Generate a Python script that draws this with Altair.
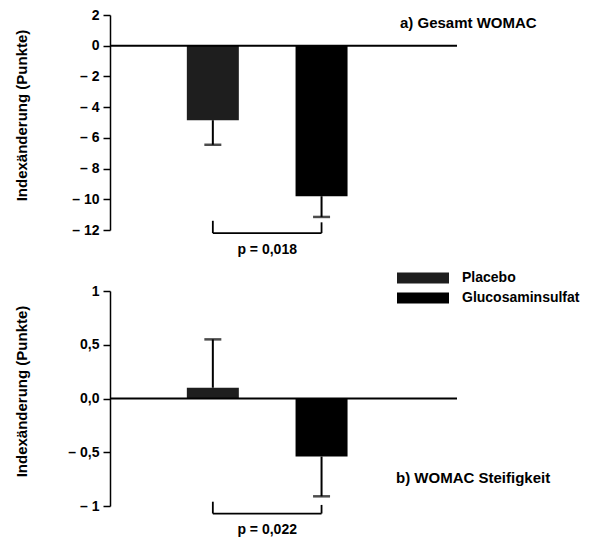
import altair as alt
import pandas as pd

FONT = "Liberation Sans"

groups = ["Placebo", "Glucosaminsulfat"]
group_pos = [1, 2]
colors = ["#1e1e1e", "#000000"]

a_means = [-4.85, -9.8]
a_err_ends = [-6.45, -11.15]
a_ticks = [2, 0, -2, -4, -6, -8, -10, -12]
a_tick_labels = ["2", "0", "– 2", "– 4", "– 6", "– 8", "– 10", "– 12"]
a_title = "a) Gesamt WOMAC"
a_p = "p = 0,018"

b_means = [0.1, -0.54]
b_err_ends = [0.55, -0.91]
b_ticks = [1, 0.5, 0, -0.5, -1]
b_tick_labels = ["1", "0,5", "0,0", "– 0,5", "– 1"]
b_title = "b) WOMAC Steifigkeit"
b_p = "p = 0,022"

y_title = "Indexänderung (Punkte)"

W, H = 347, 215


def label_expr(ticks, labels):
    return "".join(
        f"abs(datum.value - ({t})) < 1e-9 ? '{l}' : " for t, l in zip(ticks, labels)
    ) + "datum.label"


def panel(means, ends, ydom, ticks, labels, title, ptext, br_top, br_bot, p_y,
          title_xy, show_legend):
    df = pd.DataFrame({"group": groups, "x": group_pos, "mean": means, "end": ends})
    xs = alt.Scale(domain=[0.1, 3.2], nice=False, zero=False)
    ys = alt.Scale(domain=ydom, nice=False, zero=False)
    ax = alt.Axis(
        values=ticks,
        labelExpr=label_expr(ticks, labels),
        labelOverlap=False,
        labelFlush=False,
        title=y_title,
        grid=False,
        domainColor="black",
        domainWidth=1.5,
        tickColor="black",
        tickWidth=1.5,
        tickSize=7,
        labelPadding=4,
        labelFont=FONT,
        labelFontSize=14,
        labelFontWeight="bold",
        labelColor="black",
        titleFont=FONT,
        titleFontSize=15,
        titleFontWeight="bold",
        titleColor="black",
        titleAngle=-90,
        titleX=-89,
        titleY=100,
        titleAlign="center",
        titleBaseline="middle",
    )
    base = alt.Chart(df)
    if show_legend:
        legend = alt.Legend(
            title=None,
            orient="none",
            legendX=303,
            legendY=253,
            symbolType="M-2.6,-0.55L2.6,-0.55L2.6,0.55L-2.6,0.55Z",
            symbolSize=400,
            symbolStrokeWidth=0,
            symbolOpacity=1,
            labelFont=FONT,
            labelFontSize=14,
            labelFontWeight="bold",
            labelColor="black",
            labelOffset=29,
            rowPadding=3,
        )
    else:
        legend = None
    bars = base.mark_bar(size=52).encode(
        x=alt.X("x:Q", scale=xs, axis=None),
        y=alt.Y("mean:Q", scale=ys, axis=ax, title=y_title),
        y2=alt.datum(0),
        color=alt.Color("group:N", scale=alt.Scale(domain=groups, range=colors), legend=legend),
    )
    err = base.mark_rule(strokeWidth=2, color="black").encode(
        x=alt.X("x:Q", scale=xs, axis=None), y=alt.Y("mean:Q", scale=ys, axis=ax, title=y_title), y2="end:Q"
    )
    caps = base.mark_tick(orient="horizontal", size=17, thickness=2.5, color="black").encode(
        x=alt.X("x:Q", scale=xs, axis=None), y=alt.Y("end:Q", scale=ys, axis=ax, title=y_title)
    )
    zero = alt.Chart(pd.DataFrame({"v": [0]})).mark_rule(strokeWidth=2, color="black").encode(
        y=alt.Y("v:Q", scale=ys, axis=ax, title=y_title)
    )
    legs = alt.Chart(pd.DataFrame({"x": group_pos, "top": br_top, "bot": [br_bot, br_bot]})).mark_rule(
        strokeWidth=1.8, color="black"
    ).encode(x=alt.X("x:Q", scale=xs, axis=None), y=alt.Y("top:Q", scale=ys, axis=ax, title=y_title), y2="bot:Q")
    hbar = alt.Chart(pd.DataFrame({"x": [group_pos[0]], "x2": [group_pos[1]], "y": [br_bot]})).mark_rule(
        strokeWidth=1.8, color="black"
    ).encode(x=alt.X("x:Q", scale=xs, axis=None), x2="x2:Q", y=alt.Y("y:Q", scale=ys, axis=ax, title=y_title))
    ptxt = alt.Chart(pd.DataFrame({"x": [sum(group_pos) / 2], "y": [p_y], "t": [ptext]})).mark_text(
        font=FONT, fontSize=14, fontWeight="bold", color="black", baseline="middle"
    ).encode(x=alt.X("x:Q", scale=xs, axis=None), y=alt.Y("y:Q", scale=ys, axis=ax, title=y_title), text="t:N")
    ttl = alt.Chart(pd.DataFrame({"t": [title]})).mark_text(
        font=FONT, fontSize=15, fontWeight="bold", color="black", align="left", baseline="middle"
    ).encode(x=alt.value(title_xy[0]), y=alt.value(title_xy[1]), text="t:N")
    return alt.layer(bars, zero, err, caps, legs, hbar, ptxt, ttl).properties(width=W, height=H)


top = panel(a_means, a_err_ends, [-12, 2], a_ticks, a_tick_labels, a_title, a_p,
            [-11.4, -11.5], -12.2, -13.3, (290, 8), True)
bottom = panel(b_means, b_err_ends, [-1, 1], b_ticks, b_tick_labels, b_title, b_p,
               [-0.96, -0.99], -1.07, -1.22, (286, 187), False)

chart = alt.vconcat(top, bottom, spacing=61, bounds="flush").properties(
    padding={"left": 5, "top": 0, "right": 5, "bottom": 5}
).configure_view(stroke=None)

chart.save("out.html", embed_options={"renderer": "svg", "actions": False})
